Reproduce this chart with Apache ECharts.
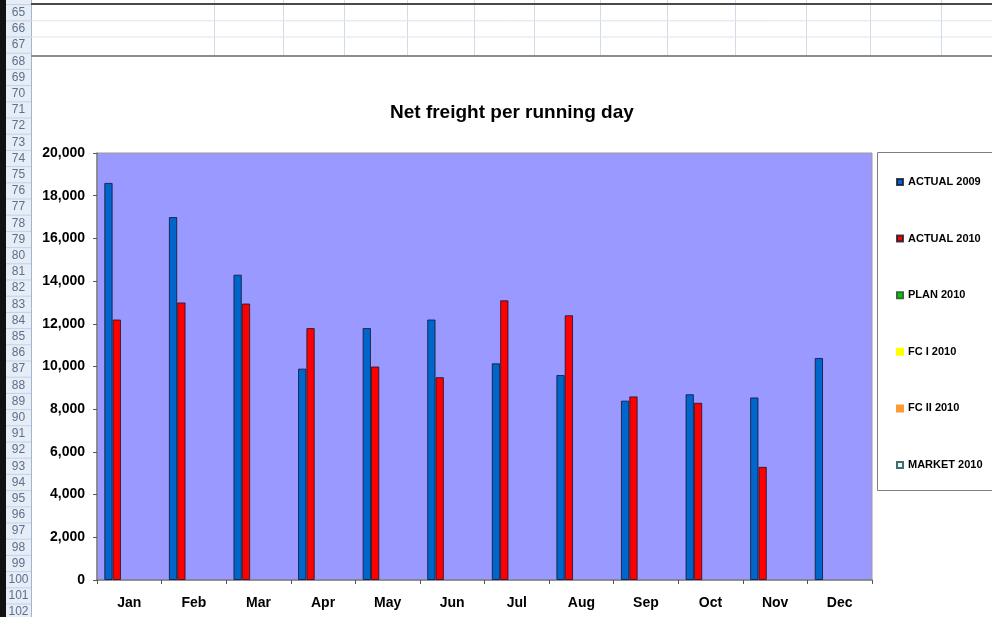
<!DOCTYPE html>
<html>
<head>
<meta charset="utf-8">
<style>
  html, body { margin: 0; padding: 0; background: #ffffff; }
  #chart { width: 992px; height: 617px; }
</style>
<script src="https://cdn.jsdelivr.net/npm/echarts@6/dist/echarts.min.js"></script>
</head>
<body>
<div id="chart"></div>
<script>
// Monthly net freight per running day
const months = ['Jan', 'Feb', 'Mar', 'Apr', 'May', 'Jun', 'Jul', 'Aug', 'Sep', 'Oct', 'Nov', 'Dec'];
const actual2009 = [18600, 17000, 14300, 9900, 11800, 12200, 10150, 9600, 8400, 8700, 8550, 10400];
const actual2010 = [12200, 13000, 12950, 11800, 10000, 9500, 13100, 12400, 8600, 8300, 5300, null];
const plan2010 = [];
const fcI2010 = [];
const fcII2010 = [];
const market2010 = [];
const yTicks = { min: 0, max: 20000, step: 2000 };

// Worksheet frame around the embedded chart
const firstRow = 65;
const rowCount = 38;
const rowTop = 4.6;
const rowH = 16.2;
const colLines = [214, 283, 344, 407, 474, 534, 600, 667, 735, 806, 870, 941];

const FONT = '"Liberation Sans", Arial, sans-serif';

const sheet = [];
// black window edge
sheet.push({ type: 'rect', shape: { x: 0, y: 0, width: 6, height: 617 }, style: { fill: '#111' }, silent: true });
// row header column
sheet.push({ type: 'rect', shape: { x: 6, y: 0, width: 25, height: 617 }, style: { fill: '#e6edf7' }, silent: true });
sheet.push({ type: 'line', shape: { x1: 31.5, y1: 0, x2: 31.5, y2: 617 }, style: { stroke: '#9eb6ce', lineWidth: 1 }, silent: true });
for (let i = 0; i < rowCount; i++) {
  const yb = rowTop + i * rowH;
  sheet.push({ type: 'line', shape: { x1: 6, y1: yb, x2: 31, y2: yb }, style: { stroke: '#c3d1e4', lineWidth: 1 }, silent: true });
  sheet.push({
    type: 'text', silent: true,
    style: { x: 18.5, y: yb + rowH / 2, text: String(firstRow + i), fill: '#5d6f8c', font: '12px ' + FONT, textAlign: 'center', textVerticalAlign: 'middle' }
  });
}
// cell grid above the chart
colLines.forEach(function (x) {
  sheet.push({ type: 'line', shape: { x1: x + 0.5, y1: 0, x2: x + 0.5, y2: 56 }, style: { stroke: '#d4dbe8', lineWidth: 1 }, silent: true });
});
[20.8, 37].forEach(function (y) {
  sheet.push({ type: 'line', shape: { x1: 31, y1: y, x2: 992, y2: y }, style: { stroke: '#dde3ee', lineWidth: 1 }, silent: true });
});
sheet.push({ type: 'line', shape: { x1: 31, y1: 4, x2: 992, y2: 4 }, style: { stroke: '#4a4a4a', lineWidth: 2 }, silent: true });
sheet.push({ type: 'line', shape: { x1: 31, y1: 56, x2: 992, y2: 56 }, style: { stroke: '#8c8c8c', lineWidth: 2 }, silent: true });
// legend frame
sheet.push({ type: 'rect', shape: { x: 877.5, y: 152.5, width: 130, height: 338 }, style: { fill: '#ffffff', stroke: '#7f7f7f', lineWidth: 1 }, silent: true, z: 0 });

const chart = echarts.init(document.getElementById('chart'), null, { renderer: 'canvas' });

const barBorder = 'rgba(20,20,40,0.8)';
function barSeries(name, data, color, border) {
  return {
    name: name,
    type: 'bar',
    data: data,
    barGap: '0%',
    barCategoryGap: '22.6%',
    itemStyle: { color: color, borderColor: border || barBorder, borderWidth: 1 },
    emphasis: { disabled: true }
  };
}

chart.setOption({
  animation: false,
  backgroundColor: '#ffffff',
  title: {
    text: 'Net freight per running day',
    left: 385,
    top: 98,
    textStyle: { fontFamily: FONT, fontSize: 19, fontWeight: 'bold', color: '#000' }
  },
  graphic: { elements: sheet },
  legend: {
    orient: 'vertical',
    left: 891,
    top: 170,
    itemWidth: 6,
    itemHeight: 6,
    itemGap: 42.6,
    icon: 'rect',
    textStyle: { fontFamily: FONT, fontSize: 11, fontWeight: 'bold', color: '#000', lineHeight: 14 },
    selectedMode: false
  },
  grid: {
    left: 97, top: 153, width: 775, height: 427,
    show: true, backgroundColor: '#9999ff', borderColor: '#9a9a9a', borderWidth: 1
  },
  xAxis: {
    type: 'category',
    data: months,
    axisLine: { lineStyle: { color: '#7f7f7f', width: 1.5 } },
    axisTick: { show: true, length: 4, lineStyle: { color: '#555' } },
    axisLabel: { margin: 16, fontFamily: FONT, fontSize: 14, fontWeight: 'bold', color: '#000' },
    splitLine: { show: false }
  },
  yAxis: {
    type: 'value',
    min: yTicks.min,
    max: yTicks.max,
    interval: yTicks.step,
    axisLine: { show: true, lineStyle: { color: '#7f7f7f', width: 1.5 } },
    axisTick: { show: true, length: 4, lineStyle: { color: '#555' } },
    axisLabel: {
      margin: 12, fontFamily: FONT, fontSize: 14, fontWeight: 'bold', color: '#000',
      formatter: function (v) { return v.toLocaleString('en-US'); }
    },
    splitLine: { show: false }
  },
  series: [
    barSeries('ACTUAL 2009', actual2009, '#0066cc'),
    barSeries('ACTUAL 2010', actual2010, '#ff0000'),
    barSeries('PLAN 2010', plan2010, '#00cc00', '#3a6a3a'),
    barSeries('FC I 2010', fcI2010, '#ffff00', '#ffff00'),
    barSeries('FC II 2010', fcII2010, '#ff9933', '#ff9933'),
    barSeries('MARKET 2010', market2010, '#ccffff', '#4a6a6a')
  ]
});
</script>
</body>
</html>
